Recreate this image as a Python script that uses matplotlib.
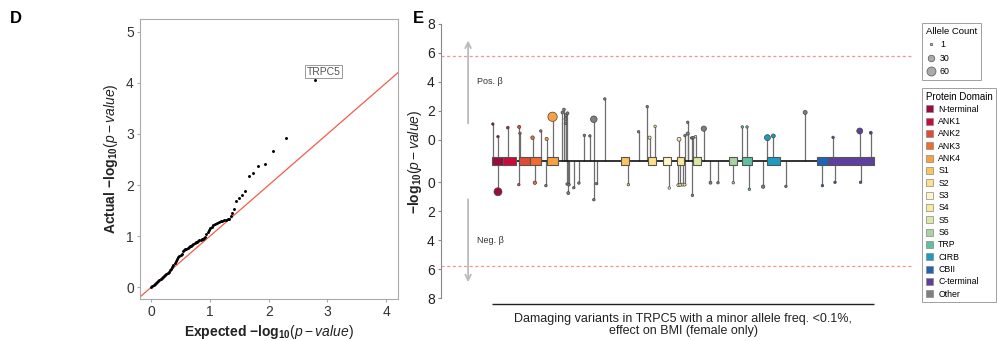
import numpy as np
import matplotlib
matplotlib.use('Agg')
import matplotlib.pyplot as plt
from matplotlib.patches import Rectangle, Patch
from matplotlib.lines import Line2D

plt.rcParams['font.family'] = ['Liberation Sans', 'DejaVu Sans']
plt.rcParams['mathtext.fontset'] = 'custom'
plt.rcParams['mathtext.rm'] = 'Liberation Sans'
plt.rcParams['mathtext.it'] = 'Liberation Sans:italic'
plt.rcParams['mathtext.bf'] = 'Liberation Sans:bold'

# ---- panel D: QQ plot ----
qq_expected = [0.00, 0.02, 0.04, 0.06, 0.08, 0.10, 0.12, 0.14, 0.16, 0.18,
               0.20, 0.22, 0.24, 0.26, 0.28, 0.30, 0.32, 0.34, 0.36, 0.38,
               0.40, 0.42, 0.44, 0.46, 0.48, 0.50, 0.52, 0.54, 0.56, 0.58,
               0.60, 0.62, 0.64, 0.66, 0.68, 0.70, 0.72, 0.74, 0.76, 0.78,
               0.80, 0.82, 0.84, 0.86, 0.88, 0.90, 0.92, 0.94, 0.96, 0.98,
               1.00, 1.03, 1.06, 1.09, 1.12, 1.15, 1.18, 1.21, 1.24, 1.27,
               1.30, 1.32,
               1.35, 1.38, 1.41, 1.45, 1.50, 1.54, 1.60, 1.66, 1.74, 1.82,
               1.93, 2.08, 2.30, 2.78]
qq_actual = [0.01, 0.03, 0.05, 0.07, 0.09, 0.11, 0.13, 0.15, 0.16, 0.18,
             0.20, 0.22, 0.24, 0.26, 0.28, 0.30, 0.33, 0.36, 0.40, 0.43,
             0.47, 0.51, 0.55, 0.59, 0.62, 0.64, 0.66, 0.70, 0.73, 0.74,
             0.75, 0.77, 0.78, 0.80, 0.81, 0.82, 0.84, 0.86, 0.88, 0.89,
             0.90, 0.92, 0.93, 0.94, 0.95, 0.96, 0.99, 1.04, 1.08, 1.12,
             1.15, 1.18, 1.22, 1.24, 1.26, 1.28, 1.29, 1.30, 1.31, 1.32,
             1.33, 1.34,
             1.40, 1.46, 1.54, 1.69, 1.75, 1.81, 1.89, 2.17, 2.24, 2.37,
             2.41, 2.67, 2.93, 4.05]
top_gene = 'TRPC5'

# ---- panel E: TRPC5 lollipop ----
protein_len = 973
domain_names = ['N-terminal', 'ANK1', 'ANK2', 'ANK3', 'ANK4', 'S1', 'S2', 'S3',
                'S4', 'S5', 'S6', 'TRP', 'CIRB', 'CBII', 'C-terminal', 'Other']
domain_colors = ['#9B0B3B', '#CC0A3A', '#E34A33', '#F26B2C', '#F9A040', '#FDC45C',
                 '#FEE08B', '#FFF5C4', '#FCE99A', '#DCE8A0', '#A9D3A0', '#5FBF9F',
                 '#1E9BC0', '#1F64B5', '#5E3FA0', '#7F7F7F']
domain_start = [0, 30, 70, 98, 140, 329, 398, 437, 471, 512, 604, 638, 702, 828, 855]
domain_end = [30, 61, 98, 125, 170, 349, 418, 457, 490, 534, 625, 663, 733, 855, 973]

# positive beta variants
pos_up = [3, 16, 41, 70, 72, 104, 125, 140, 155, 180, 184, 189, 193, 188, 188,
          236, 250, 260, 288, 374, 396, 402, 416, 477, 492, 499, 499, 509, 513,
          519, 540, 638, 650, 702, 717, 798, 869, 937, 965]
logp_up = [1.10, 0.23, 0.85, 0.90, 0.46, 0.16, 0.62, 0.07, 1.60, 1.90, 2.10, 1.72,
           1.84, 1.45, 1.15, 0.32, 0.28, 1.43, 2.83, 0.57, 2.30, 0.16, 0.94, 0.05,
           0.30, 1.22, 0.44, 0.14, 0.16, 0.23, 0.78, 0.90, 0.90, 0.16, 0.28, 1.90,
           0.18, 0.62, 0.50]
count_up = [1, 1, 2, 4, 1, 6, 1, 4, 64, 2, 2, 3, 3, 3, 2, 1, 1, 30, 1, 1, 1, 4,
            1, 8, 1, 1, 4, 1, 1, 1, 18, 1, 1, 24, 8, 9, 1, 24, 3]
dom_up = ['N-terminal', 'N-terminal', 'ANK1', 'ANK2', 'ANK2', 'ANK3', 'Other',
          'ANK4', 'ANK4', 'Other', 'Other', 'Other', 'Other', 'Other', 'Other',
          'Other', 'Other', 'Other', 'Other', 'Other', 'Other', 'S2', 'S2', 'S4',
          'Other', 'Other', 'Other', 'Other', 'Other', 'S5', 'Other', 'TRP', 'TRP',
          'CIRB', 'CIRB', 'Other', 'C-terminal', 'C-terminal', 'C-terminal']

# negative beta variants
pos_dn = [16, 69, 110, 138, 192, 197, 195, 209, 222, 260, 267, 348, 452, 475,
          480, 486, 491, 511, 557, 576, 615, 656, 691, 749, 842, 874, 939]
logp_dn = [0.67, 0.18, 0.05, 0.25, 0.14, 0.18, 0.76, 0.39, 0.07, 1.22, 0.11, 0.18,
           0.41, 0.22, 0.20, 0.18, 0.18, 0.92, 0.05, 0.05, 0.05, 0.50, 0.32, 0.30,
           0.25, 0.02, 0.02]
count_dn = [46, 1, 5, 1, 1, 1, 3, 1, 1, 1, 1, 1, 1, 3, 3, 3, 3, 1, 3, 1, 1, 1,
            5, 1, 1, 1, 1]
dom_dn = ['N-terminal', 'ANK2', 'ANK3', 'Other', 'Other', 'Other', 'Other',
          'Other', 'Other', 'Other', 'Other', 'S1', 'S3', 'S4', 'S4', 'S4', 'S4',
          'Other', 'Other', 'Other', 'S6', 'TRP', 'Other', 'Other', 'CBII',
          'C-terminal', 'C-terminal']

threshold = 5.8
legend_counts = [1, 30, 60]

col = dict(zip(domain_names, domain_colors))
off = 1.45  # gap between backbone and the 0 of each half


def msize(c):
    return 2.6 + 0.66 * np.asarray(c, dtype=float)


fig = plt.figure(figsize=(9.97, 3.41), dpi=100)

# ---------------- D ----------------
ax1 = fig.add_axes([140 / 997, 42 / 341, 258 / 997, 280 / 341])
ax1.scatter(qq_expected, qq_actual, s=4.5, c='black', linewidths=0, zorder=3)
ax1.axline((0, 0), slope=1, color='#F25C4C', lw=0.9, zorder=2)
ax1.set_xlim(-0.19, 4.2)
ax1.set_ylim(-0.23, 5.25)
ax1.set_xticks(range(5))
ax1.set_yticks(range(6))
for sp in ax1.spines.values():
    sp.set_color('#AAAAAA')
    sp.set_linewidth(0.8)
ax1.tick_params(color='#AAAAAA', labelcolor='#333333', length=2.5, labelsize=10, pad=2)
ax1.set_xlabel(r'$\mathbf{Expected}\ \mathbf{-log_{10}}(p-value)$', fontsize=10, color='#222222', labelpad=3)
ax1.set_ylabel(r'$\mathbf{Actual}\ \mathbf{-log_{10}}(p-value)$', fontsize=10, color='#222222', labelpad=4)
ax1.text(qq_expected[-1] + 0.16, qq_actual[-1] + 0.17, top_gene, ha='center', va='center',
         fontsize=7.5, color='#555555',
         bbox=dict(boxstyle='square,pad=0.15', fc='white', ec='#999999', lw=0.7))
fig.text(10 / 997, 1 - 11 / 341, 'D', fontsize=12, fontweight='bold', va='top', ha='left')

# ---------------- E ----------------
ax2 = fig.add_axes([441 / 997, 35 / 341, 471 / 997, 284.2 / 341])
ax2.set_xlim(-129, 1070)
ax2.set_ylim(-10.0, 9.6)
for s in ['top', 'right', 'bottom']:
    ax2.spines[s].set_visible(False)
ax2.spines['left'].set_color('#888888')
ax2.spines['left'].set_bounds(-off - 8, off + 8)
ticks = [off + v for v in [8, 6, 4, 2, 0]] + [-off - v for v in [0, 2, 4, 6, 8]]
ax2.set_yticks(ticks)
ax2.set_yticklabels(['8', '6', '4', '2', '0', '0', '2', '4', '6', '8'])
ax2.set_xticks([])
ax2.tick_params(axis='y', color='#888888', labelcolor='#222222', length=2.5, labelsize=10, pad=2)
ax2.set_ylabel(r'$\mathbf{-log_{10}}(p-value)$', fontsize=10, color='#222222')
ax2.yaxis.set_label_coords(-0.036, 0.507)

# threshold lines
ax2.axhline(off + threshold, color='#F4978E', lw=0.9, ls=(0, (2.5, 2)))
ax2.axhline(-off - threshold, color='#F4978E', lw=0.9, ls=(0, (2.5, 2)))

# direction arrows
ax2.annotate('', xy=(-60, 8.5), xytext=(-60, 2.4),
             arrowprops=dict(arrowstyle='->', color='#BBBBBB', lw=1.3))
ax2.annotate('', xy=(-60, -8.55), xytext=(-60, -2.45),
             arrowprops=dict(arrowstyle='->', color='#BBBBBB', lw=1.3))
ax2.text(-38, off + 4, 'Pos. β', fontsize=6.5, va='center', ha='left', color='#333333')
ax2.text(-38, -off - 4, 'Neg. β', fontsize=6.5, va='center', ha='left', color='#333333')

# stems
y_up = [off + v for v in logp_up]
y_dn = [-off - v for v in logp_dn]
ax2.vlines(pos_up, 0, y_up, colors='#6E6E6E', lw=0.9, zorder=1)
ax2.vlines(pos_dn, 0, y_dn, colors='#6E6E6E', lw=0.9, zorder=1)

# backbone + domains
ax2.hlines(0, 0, protein_len, colors='#111111', lw=1.2, zorder=2)
for name, a, b in zip(domain_names, domain_start, domain_end):
    ax2.add_patch(Rectangle((a, -0.25), b - a, 0.5, fc=col[name], ec='#555555',
                            lw=0.8, zorder=3))

# heads
ax2.scatter(pos_up, y_up, s=msize(count_up), c=[col[d] for d in dom_up],
            edgecolors='#444444', linewidths=0.5, zorder=4)
ax2.scatter(pos_dn, y_dn, s=msize(count_dn), c=[col[d] for d in dom_dn],
            edgecolors='#444444', linewidths=0.5, zorder=4)

# x axis line + label
ax2.hlines(-9.86, 0, protein_len, colors='#222222', lw=1.0)
fig.text(683 / 997, 1 - 325 / 341,
         'Damaging variants in TRPC5 with a minor allele freq. <0.1%,\neffect on BMI (female only)',
         ha='center', va='center', fontsize=9, linespacing=1.1, color='#222222')
fig.text(413 / 997, 1 - 11 / 341, 'E', fontsize=12, fontweight='bold', va='top', ha='left')

# legends
h1 = [Line2D([], [], ls='', marker='o', markersize=np.sqrt(msize(c)),
             markerfacecolor='#AAAAAA', markeredgecolor='#555555', markeredgewidth=0.5)
      for c in legend_counts]
lg1 = fig.legend(h1, [str(c) for c in legend_counts], title='Allele Count',
                 loc='upper left', bbox_to_anchor=(922 / 997, 1 - 23 / 341),
                 fontsize=6.3, title_fontsize=6.8, frameon=True, fancybox=False,
                 edgecolor='#888888', borderpad=0.45, handletextpad=0.4,
                 labelspacing=0.5, handlelength=1.2, alignment='left', borderaxespad=0)
lg1.get_frame().set_linewidth(0.7)

h2 = [Patch(fc=c, ec='#888888', lw=0.5) for c in domain_colors]
lg2 = fig.legend(h2, domain_names, title='Protein Domain',
                 loc='upper left', bbox_to_anchor=(922 / 997, 1 - 88 / 341),
                 fontsize=6.3, title_fontsize=7, frameon=True, fancybox=False,
                 edgecolor='#888888', borderpad=0.4, handletextpad=0.6,
                 labelspacing=0.38, handlelength=0.85, handleheight=0.85,
                 alignment='left', borderaxespad=0)
lg2.get_frame().set_linewidth(0.7)

fig.savefig('out.png', dpi=100)
